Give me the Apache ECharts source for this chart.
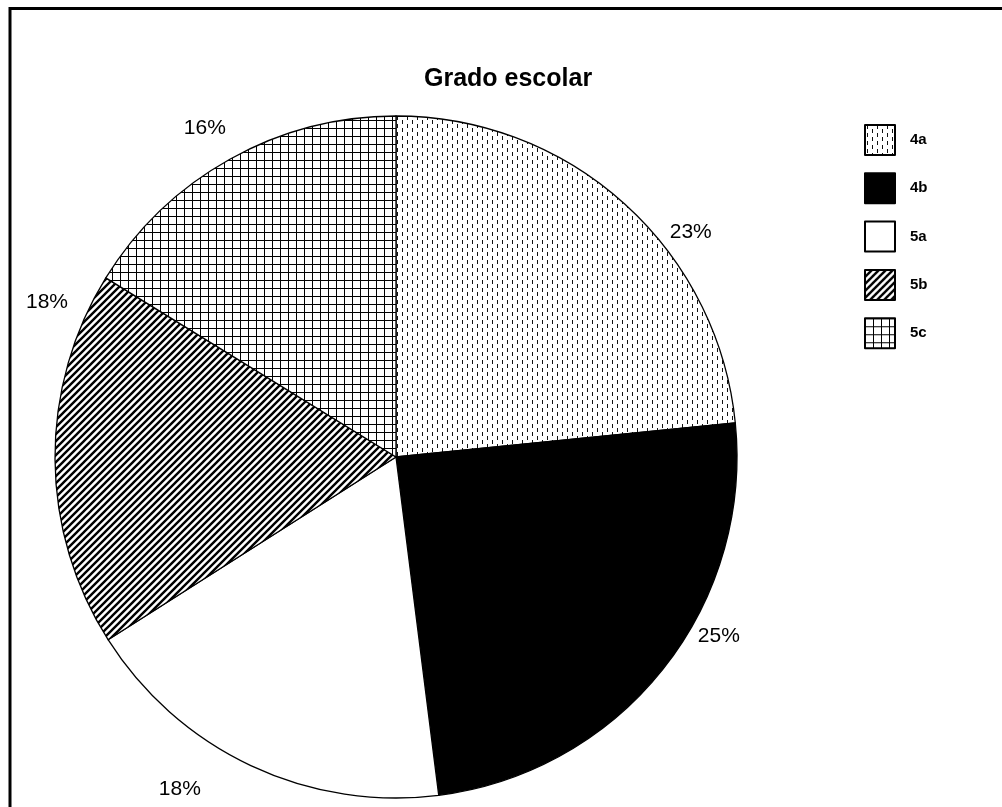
<!DOCTYPE html>
<html>
<head>
<meta charset="utf-8">
<script src="https://cdn.jsdelivr.net/npm/echarts@6/dist/echarts.min.js"></script>
<style>
  html, body { margin: 0; padding: 0; background: #fff; }
  #chart { width: 1002px; height: 807px; }
</style>
</head>
<body>
<div id="chart"></div>
<script>
// data (percent of students per grade)
const grades = ['4a', '4b', '5a', '5b', '5c']
const shares = [23.4, 24.6, 18.0, 17.8, 16.2]

// nudges for the outside labels, relative to where echarts puts them
const labelShift = [[40, 28], [30, -33], [-45, 24], [18, -157], [1, -31]]

function tile(w, h, draw) {
  const c = document.createElement('canvas')
  c.width = w
  c.height = h
  const ctx = c.getContext('2d')
  ctx.fillStyle = '#fff'
  ctx.fillRect(0, 0, w, h)
  draw(ctx)
  return { image: c, repeat: 'repeat' }
}

const dots = tile(10, 8, (ctx) => {
  ctx.fillStyle = '#111'
  ctx.fillRect(2, 0, 1, 4)
  ctx.fillRect(7, 4, 1, 4)
})
const stripes = tile(7, 7, (ctx) => {
  ctx.strokeStyle = '#000'
  ctx.lineWidth = 2.4
  ctx.beginPath()
  ctx.moveTo(-1, 8); ctx.lineTo(8, -1)
  ctx.moveTo(-1, 1); ctx.lineTo(1, -1)
  ctx.moveTo(6, 8); ctx.lineTo(8, 6)
  ctx.stroke()
})
const grid = tile(8, 8, (ctx) => {
  ctx.fillStyle = '#000'
  ctx.fillRect(0, 0, 8, 1)
  ctx.fillRect(0, 0, 1, 8)
})
const fills = [dots, '#000', '#fff', stripes, grid]

const chart = echarts.init(document.getElementById('chart'))
chart.setOption({
  animation: false,
  backgroundColor: '#fff',
  textStyle: { fontFamily: 'Arial, "Liberation Sans", sans-serif', color: '#000' },
  title: {
    text: 'Grado escolar',
    left: 424,
    top: 67,
    padding: 0,
    textStyle: { fontSize: 25, fontWeight: 'bold', color: '#000' },
  },
  legend: {
    orient: 'vertical',
    left: 864,
    top: 124,
    padding: 0,
    icon: 'rect',
    itemWidth: 30,
    itemHeight: 30,
    itemGap: 16.3,
    textStyle: { fontSize: 15, fontWeight: 'bold', color: '#000', padding: [0, 0, 14, 10] },
  },
  graphic: [
    {
      type: 'rect',
      shape: { x: 10, y: 8.5, width: 1200, height: 1000 },
      style: { fill: 'none', stroke: '#000', lineWidth: 3 },
      silent: true,
    },
  ],
  series: [
    {
      type: 'pie',
      center: [396, 457],
      radius: 341,
      startAngle: 90,
      clockwise: true,
      avoidLabelOverlap: false,
      itemStyle: { borderColor: '#000', borderWidth: 1.3 },
      label: {
        show: true,
        position: 'outside',
        fontSize: 21,
        color: '#000',
        formatter: (p) => Math.round(p.percent) + '%',
      },
      labelLine: { show: false, length: 0, length2: 0 },
      labelLayout: (p) => ({ dx: labelShift[p.dataIndex][0], dy: labelShift[p.dataIndex][1] }),
      emphasis: { disabled: true },
      data: grades.map((g, i) => ({
        name: g,
        value: shares[i],
        itemStyle: { color: fills[i] },
      })),
    },
  ],
})
</script>
</body>
</html>
